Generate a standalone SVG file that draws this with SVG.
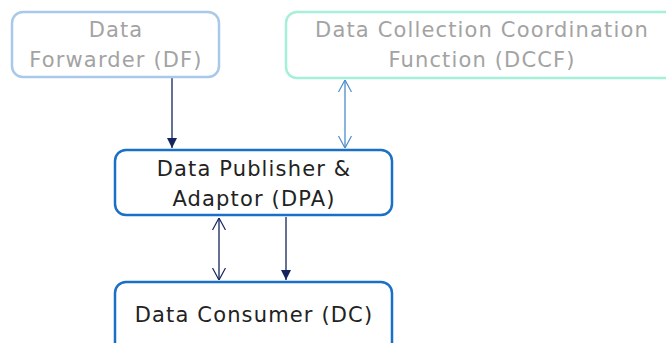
<svg xmlns="http://www.w3.org/2000/svg" width="666" height="343" viewBox="0 0 666 343">
<defs>
<style>
.t{font-family:"DejaVu Sans","Open Sans",sans-serif;font-size:21px;text-anchor:middle;letter-spacing:1.15px}
.g{fill:#a3a3a3}
.d{fill:#222}
.box{fill:#fff;stroke-width:2.5}
</style>
<marker id="fa" viewBox="0 0 10 10" refX="10" refY="5" markerWidth="10" markerHeight="10" markerUnits="userSpaceOnUse" orient="auto"><path d="M0,0 L10,5 L0,10 Z" fill="#14245e"/></marker>
<marker id="va" viewBox="0 0 12 14" refX="12" refY="7" markerWidth="12" markerHeight="14" markerUnits="userSpaceOnUse" orient="auto-start-reverse"><path d="M0,0.5 L12,7 L0,13.5" fill="none" stroke="#14245e" stroke-width="1.2"/></marker>
<marker id="vb" viewBox="0 0 12 14" refX="12" refY="7" markerWidth="12" markerHeight="14" markerUnits="userSpaceOnUse" orient="auto-start-reverse"><path d="M0,0.5 L12,7 L0,13.5" fill="none" stroke="#4d8cc8" stroke-width="1.2"/></marker>
</defs>
<rect width="666" height="343" fill="#fff"/>
<g id="connectors" fill="none" stroke-width="1.3">
<line x1="172" y1="78" x2="172" y2="148" stroke="#14245e" marker-end="url(#fa)"/>
<line x1="345" y1="80" x2="345" y2="148" stroke="#4d8cc8" marker-start="url(#vb)" marker-end="url(#vb)"/>
<line x1="219" y1="218" x2="219" y2="280" stroke="#14245e" marker-start="url(#va)" marker-end="url(#va)"/>
<line x1="286" y1="217" x2="286" y2="280" stroke="#14245e" marker-end="url(#fa)"/>
</g>
<g id="df"><rect class="box" x="12" y="12" width="207" height="65" rx="11" stroke="#a9c9ea"/>
<text class="t g" x="116" y="37">Data</text><text class="t g" x="116" y="67">Forwarder (DF)</text></g>
<g id="dccf"><rect class="box" x="286" y="12" width="392" height="66" rx="11" stroke="#a6f0da"/>
<text class="t g" x="482" y="37">Data Collection Coordination</text><text class="t g" x="482" y="67">Function (DCCF)</text></g>
<g id="dpa"><rect class="box" x="115" y="150" width="277" height="65" rx="11" stroke="#1a70c6"/>
<text class="t d" x="254" y="176">Data Publisher &amp;</text><text class="t d" x="254" y="206">Adaptor (DPA)</text></g>
<g id="dc"><rect class="box" x="115" y="282" width="277" height="75" rx="11" stroke="#1a70c6"/>
<text class="t d" x="254" y="322">Data Consumer (DC)</text></g>
</svg>
